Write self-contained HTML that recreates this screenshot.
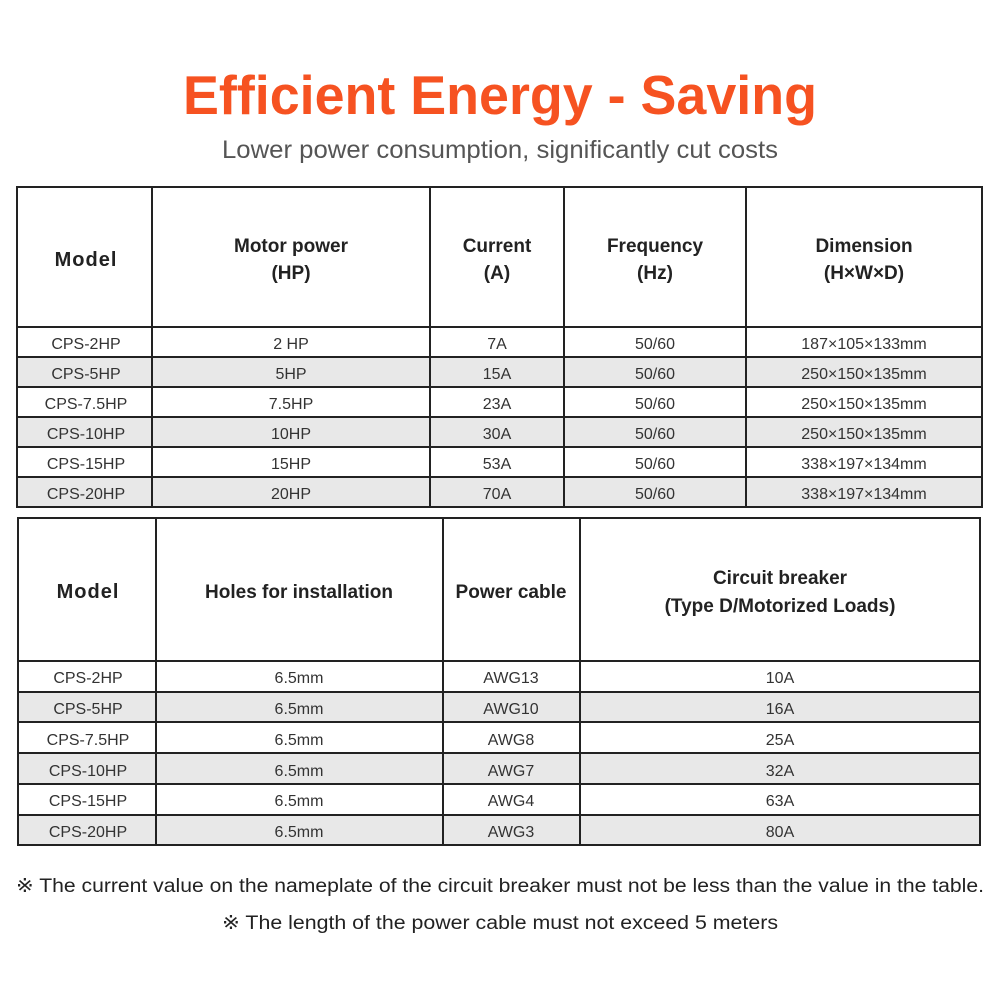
<!DOCTYPE html>
<html><head><meta charset="utf-8"><style>
body{margin:0;background:#fff;width:1000px;height:1000px;overflow:hidden}
svg text{font-family:"Liberation Sans",sans-serif}
</style></head><body>
<svg width="1000" height="1000" xmlns="http://www.w3.org/2000/svg">
<text x="500" y="114" text-anchor="middle" font-size="55" font-weight="bold" fill="#f65221" textLength="634" lengthAdjust="spacingAndGlyphs">Efficient Energy - Saving</text>
<text x="500" y="158" text-anchor="middle" font-size="25" fill="#555" textLength="556" lengthAdjust="spacingAndGlyphs">Lower power consumption, significantly cut costs</text>
<!-- table 1 -->
<g fill="#e8e8e8">
<rect x="17" y="357" width="965" height="30"/><rect x="17" y="417" width="965" height="30"/><rect x="17" y="477" width="965" height="30"/>
</g>
<g stroke="#222" stroke-width="2" fill="none">
<rect x="17" y="187" width="965" height="320"/>
<line x1="17" y1="327" x2="982" y2="327"/>
<line x1="17" y1="357" x2="982" y2="357"/><line x1="17" y1="387" x2="982" y2="387"/><line x1="17" y1="417" x2="982" y2="417"/><line x1="17" y1="447" x2="982" y2="447"/><line x1="17" y1="477" x2="982" y2="477"/>
<line x1="152" y1="187" x2="152" y2="507"/><line x1="430" y1="187" x2="430" y2="507"/><line x1="564" y1="187" x2="564" y2="507"/><line x1="746" y1="187" x2="746" y2="507"/>
</g>
<g font-weight="bold" font-size="19" fill="#222" text-anchor="middle">
<text x="86" y="266" font-size="20" letter-spacing="1">Model</text>
<text x="291" y="252">Motor power</text><text x="291" y="279">(HP)</text>
<text x="497" y="252">Current</text><text x="497" y="279">(A)</text>
<text x="655" y="252">Frequency</text><text x="655" y="279">(Hz)</text>
<text x="864" y="252">Dimension</text><text x="864" y="279">(H×W×D)</text>
</g>
<g font-size="16" fill="#333" text-anchor="middle">
<text x="86" y="349">CPS-2HP</text><text x="291" y="349">2 HP</text><text x="497" y="349">7A</text><text x="655" y="349">50/60</text><text x="864" y="349">187×105×133mm</text>
<text x="86" y="379">CPS-5HP</text><text x="291" y="379">5HP</text><text x="497" y="379">15A</text><text x="655" y="379">50/60</text><text x="864" y="379">250×150×135mm</text>
<text x="86" y="409">CPS-7.5HP</text><text x="291" y="409">7.5HP</text><text x="497" y="409">23A</text><text x="655" y="409">50/60</text><text x="864" y="409">250×150×135mm</text>
<text x="86" y="439">CPS-10HP</text><text x="291" y="439">10HP</text><text x="497" y="439">30A</text><text x="655" y="439">50/60</text><text x="864" y="439">250×150×135mm</text>
<text x="86" y="469">CPS-15HP</text><text x="291" y="469">15HP</text><text x="497" y="469">53A</text><text x="655" y="469">50/60</text><text x="864" y="469">338×197×134mm</text>
<text x="86" y="499">CPS-20HP</text><text x="291" y="499">20HP</text><text x="497" y="499">70A</text><text x="655" y="499">50/60</text><text x="864" y="499">338×197×134mm</text>
</g>
<!-- table 2 -->
<g fill="#e8e8e8">
<rect x="18" y="692" width="962" height="30"/><rect x="18" y="753" width="962" height="31"/><rect x="18" y="815" width="962" height="30"/>
</g>
<g stroke="#222" stroke-width="2" fill="none">
<rect x="18" y="518" width="962" height="327"/>
<line x1="18" y1="661" x2="980" y2="661"/>
<line x1="18" y1="692" x2="980" y2="692"/><line x1="18" y1="722" x2="980" y2="722"/><line x1="18" y1="753" x2="980" y2="753"/><line x1="18" y1="784" x2="980" y2="784"/><line x1="18" y1="815" x2="980" y2="815"/>
<line x1="156" y1="518" x2="156" y2="845"/><line x1="443" y1="518" x2="443" y2="845"/><line x1="580" y1="518" x2="580" y2="845"/>
</g>
<g font-weight="bold" font-size="19" fill="#222" text-anchor="middle">
<text x="88" y="598" font-size="20" letter-spacing="1">Model</text>
<text x="299" y="598">Holes for installation</text>
<text x="511" y="598">Power cable</text>
<text x="780" y="584">Circuit breaker</text><text x="780" y="612">(Type D/Motorized Loads)</text>
</g>
<g font-size="16" fill="#333" text-anchor="middle">
<text x="88" y="683">CPS-2HP</text><text x="299" y="683">6.5mm</text><text x="511" y="683">AWG13</text><text x="780" y="683">10A</text>
<text x="88" y="714">CPS-5HP</text><text x="299" y="714">6.5mm</text><text x="511" y="714">AWG10</text><text x="780" y="714">16A</text>
<text x="88" y="745">CPS-7.5HP</text><text x="299" y="745">6.5mm</text><text x="511" y="745">AWG8</text><text x="780" y="745">25A</text>
<text x="88" y="776">CPS-10HP</text><text x="299" y="776">6.5mm</text><text x="511" y="776">AWG7</text><text x="780" y="776">32A</text>
<text x="88" y="806">CPS-15HP</text><text x="299" y="806">6.5mm</text><text x="511" y="806">AWG4</text><text x="780" y="806">63A</text>
<text x="88" y="837">CPS-20HP</text><text x="299" y="837">6.5mm</text><text x="511" y="837">AWG3</text><text x="780" y="837">80A</text>
</g>
<g font-size="19" fill="#222" text-anchor="middle">
<text x="500" y="892" textLength="968" lengthAdjust="spacingAndGlyphs">※ The current value on the nameplate of the circuit breaker must not be less than the value in the table.</text>
<text x="500" y="929" textLength="556" lengthAdjust="spacingAndGlyphs">※ The length of the power cable must not exceed 5 meters</text>
</g>
</svg>
</body></html>
